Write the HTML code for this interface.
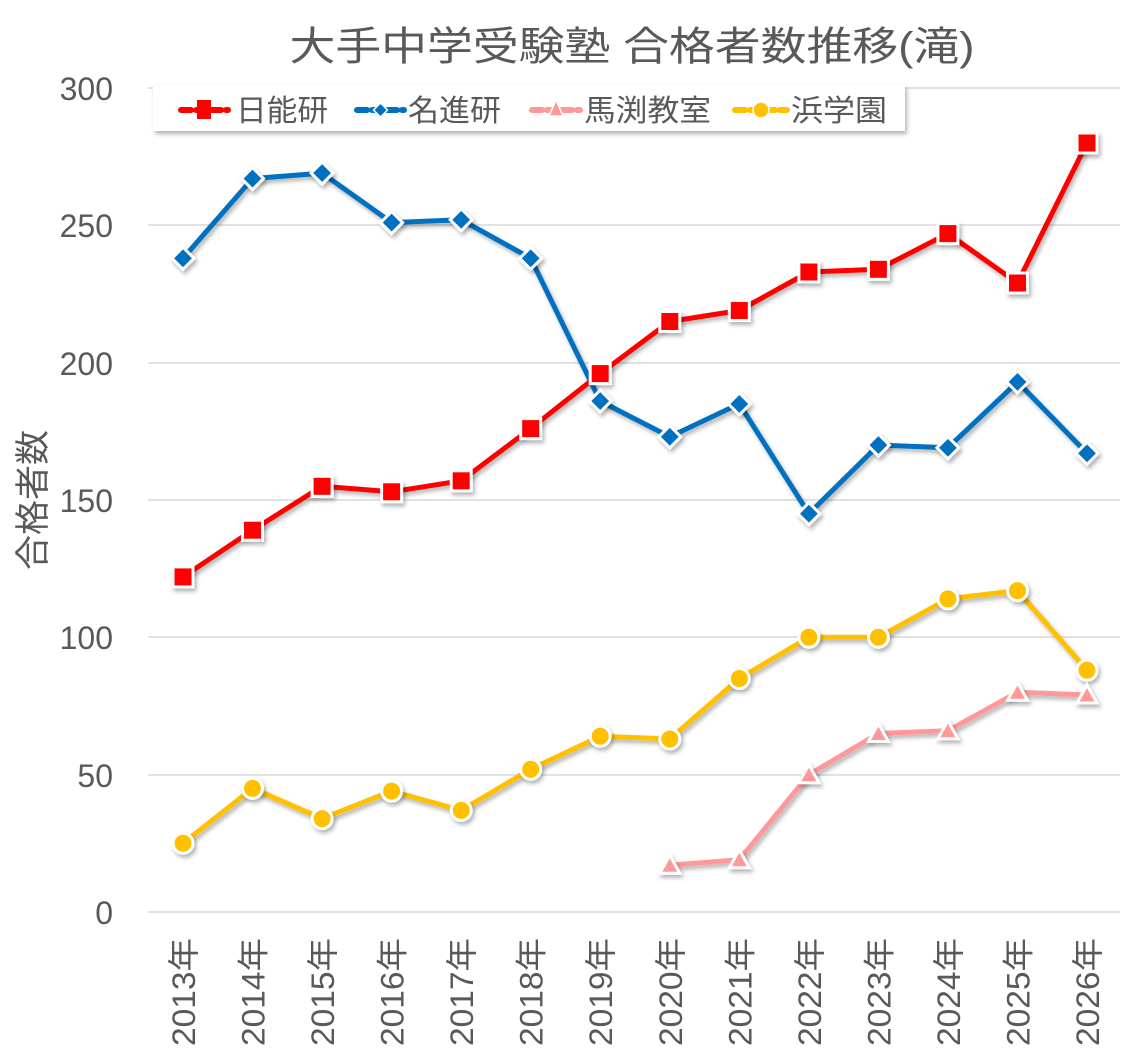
<!DOCTYPE html>
<html><head><meta charset="utf-8"><style>
body{margin:0;background:#fff}
text{font-family:"Liberation Sans","Noto Sans CJK JP",sans-serif;fill:#595959}
.cj{font-family:"Noto Sans CJK JP",sans-serif}
</style></head><body>
<svg width="1146" height="1057" xmlns="http://www.w3.org/2000/svg">
<defs>
<filter id="sh" x="-10%" y="-10%" width="120%" height="130%"><feDropShadow dx="2" dy="3" stdDeviation="2" flood-color="#000" flood-opacity="0.3"/></filter>
</defs>
<text x="632" y="60" font-size="40" text-anchor="middle" textLength="685" lengthAdjust="spacingAndGlyphs">大手中学受験塾 合格者数推移(滝)</text>
<g stroke="#d9d9d9" stroke-width="1.5">
<line x1="148" x2="1120" y1="88" y2="88"/><line x1="148" x2="1120" y1="225" y2="225"/><line x1="148" x2="1120" y1="363" y2="363"/><line x1="148" x2="1120" y1="500" y2="500"/><line x1="148" x2="1120" y1="637" y2="637"/><line x1="148" x2="1120" y1="775" y2="775"/><line x1="148" x2="1120" y1="912" y2="912"/>
</g>
<g font-size="32" text-anchor="end">
<text x="113" y="100">300</text><text x="113" y="237">250</text><text x="113" y="375">200</text><text x="113" y="512">150</text><text x="113" y="649">100</text><text x="113" y="787">50</text><text x="113" y="924">0</text>
</g>
<text transform="translate(45,500) rotate(-90)" font-size="35" text-anchor="middle">合格者数</text>
<g font-size="32" text-anchor="end">
<text transform="translate(195,938) rotate(-90)" textLength="108" lengthAdjust="spacingAndGlyphs">2013年</text>
<text transform="translate(264.5,938) rotate(-90)" textLength="108" lengthAdjust="spacingAndGlyphs">2014年</text>
<text transform="translate(334.1,938) rotate(-90)" textLength="108" lengthAdjust="spacingAndGlyphs">2015年</text>
<text transform="translate(403.6,938) rotate(-90)" textLength="108" lengthAdjust="spacingAndGlyphs">2016年</text>
<text transform="translate(473.2,938) rotate(-90)" textLength="108" lengthAdjust="spacingAndGlyphs">2017年</text>
<text transform="translate(542.7,938) rotate(-90)" textLength="108" lengthAdjust="spacingAndGlyphs">2018年</text>
<text transform="translate(612.2,938) rotate(-90)" textLength="108" lengthAdjust="spacingAndGlyphs">2019年</text>
<text transform="translate(681.8,938) rotate(-90)" textLength="108" lengthAdjust="spacingAndGlyphs">2020年</text>
<text transform="translate(751.3,938) rotate(-90)" textLength="108" lengthAdjust="spacingAndGlyphs">2021年</text>
<text transform="translate(820.9,938) rotate(-90)" textLength="108" lengthAdjust="spacingAndGlyphs">2022年</text>
<text transform="translate(890.4,938) rotate(-90)" textLength="108" lengthAdjust="spacingAndGlyphs">2023年</text>
<text transform="translate(959.9,938) rotate(-90)" textLength="108" lengthAdjust="spacingAndGlyphs">2024年</text>
<text transform="translate(1029.5,938) rotate(-90)" textLength="108" lengthAdjust="spacingAndGlyphs">2025年</text>
<text transform="translate(1099,938) rotate(-90)" textLength="108" lengthAdjust="spacingAndGlyphs">2026年</text>
</g>
<g fill="none" stroke-width="5" stroke-linejoin="round" filter="url(#sh)">
<polyline stroke="#ffc000" points="183,843.3 252.5,788.4 322.1,818.6 391.6,791.1 461.2,810.4 530.7,769.2 600.2,736.2 669.8,739 739.3,678.5 808.9,637.3 878.4,637.3 947.9,598.9 1017.5,590.6 1087,670.3"/>
<polyline stroke="#ff9999" points="669.8,865.3 739.3,859.8 808.9,774.7 878.4,733.5 947.9,730.7 1017.5,692.3 1087,695"/>
<polyline stroke="#0070c0" points="183,258.3 252.5,178.6 322.1,173.1 391.6,222.6 461.2,219.8 530.7,258.3 600.2,401.1 669.8,436.8 739.3,403.9 808.9,513.7 878.4,445.1 947.9,447.8 1017.5,381.9 1087,453.3"/>
<polyline stroke="#ff0000" points="183,576.9 252.5,530.2 322.1,486.3 391.6,491.8 461.2,480.8 530.7,428.6 600.2,373.6 669.8,321.5 739.3,310.5 808.9,272 878.4,269.3 947.9,233.6 1017.5,283 1087,143"/>
</g>
<g filter="url(#sh)">
<g fill="#ffc000" stroke="#fff" stroke-width="3">
<circle cx="183" cy="843.3" r="10"/><circle cx="252.5" cy="788.4" r="10"/><circle cx="322.1" cy="818.6" r="10"/><circle cx="391.6" cy="791.1" r="10"/><circle cx="461.2" cy="810.4" r="10"/><circle cx="530.7" cy="769.2" r="10"/><circle cx="600.2" cy="736.2" r="10"/><circle cx="669.8" cy="739" r="10"/><circle cx="739.3" cy="678.5" r="10"/><circle cx="808.9" cy="637.3" r="10"/><circle cx="878.4" cy="637.3" r="10"/><circle cx="947.9" cy="598.9" r="10"/><circle cx="1017.5" cy="590.6" r="10"/><circle cx="1087" cy="670.3" r="10"/>
</g>
<g fill="#ff9999" stroke="#fff" stroke-width="3">
<path d="M669.8,855.3l10,18h-20z"/><path d="M739.3,849.8l10,18h-20z"/><path d="M808.9,764.7l10,18h-20z"/><path d="M878.4,723.5l10,18h-20z"/><path d="M947.9,720.7l10,18h-20z"/><path d="M1017.5,682.3l10,18h-20z"/><path d="M1087,685l10,18h-20z"/>
</g>
<g fill="#0070c0" stroke="#fff" stroke-width="3">
<path d="M183,247.3l11,11l-11,11l-11,-11z"/><path d="M252.5,167.6l11,11l-11,11l-11,-11z"/><path d="M322.1,162.1l11,11l-11,11l-11,-11z"/><path d="M391.6,211.6l11,11l-11,11l-11,-11z"/><path d="M461.2,208.8l11,11l-11,11l-11,-11z"/><path d="M530.7,247.3l11,11l-11,11l-11,-11z"/><path d="M600.2,390.1l11,11l-11,11l-11,-11z"/><path d="M669.8,425.8l11,11l-11,11l-11,-11z"/><path d="M739.3,392.9l11,11l-11,11l-11,-11z"/><path d="M808.9,502.7l11,11l-11,11l-11,-11z"/><path d="M878.4,434.1l11,11l-11,11l-11,-11z"/><path d="M947.9,436.8l11,11l-11,11l-11,-11z"/><path d="M1017.5,370.9l11,11l-11,11l-11,-11z"/><path d="M1087,442.3l11,11l-11,11l-11,-11z"/>
</g>
<g fill="#ff0000" stroke="#fff" stroke-width="3">
<rect x="173" y="566.9" width="20" height="20"/><rect x="242.5" y="520.2" width="20" height="20"/><rect x="312.1" y="476.3" width="20" height="20"/><rect x="381.6" y="481.8" width="20" height="20"/><rect x="451.2" y="470.8" width="20" height="20"/><rect x="520.7" y="418.6" width="20" height="20"/><rect x="590.2" y="363.6" width="20" height="20"/><rect x="659.8" y="311.5" width="20" height="20"/><rect x="729.3" y="300.5" width="20" height="20"/><rect x="798.9" y="262" width="20" height="20"/><rect x="868.4" y="259.3" width="20" height="20"/><rect x="937.9" y="223.6" width="20" height="20"/><rect x="1007.5" y="273" width="20" height="20"/><rect x="1077" y="133" width="20" height="20"/>
</g>
</g>
<rect x="153" y="85" width="752" height="46" fill="#fff" filter="url(#sh)"/>
<g font-size="30">
<line x1="181" x2="228" y1="110" y2="110" stroke="#ff0000" stroke-width="6" stroke-dasharray="10,5" stroke-linecap="round"/>
<rect x="197" y="100" width="14" height="19" fill="#ff0000"/>
<text x="236" y="121" textLength="92" lengthAdjust="spacingAndGlyphs">日能研</text>
<line x1="357" x2="404" y1="110" y2="110" stroke="#0070c0" stroke-width="6" stroke-dasharray="10,5" stroke-linecap="round"/>
<path d="M380.5,103l7,7l-7,7l-7,-7z" fill="#0070c0" stroke="#fff" stroke-width="1.5"/>
<text x="408" y="121" textLength="93" lengthAdjust="spacingAndGlyphs">名進研</text>
<line x1="532" x2="580" y1="110" y2="110" stroke="#ff9999" stroke-width="6" stroke-dasharray="10,5" stroke-linecap="round"/>
<path d="M556,100l7,16h-14z" fill="#ff9999" stroke="#fff" stroke-width="1.5"/>
<text x="584" y="121" textLength="127" lengthAdjust="spacingAndGlyphs">馬渕教室</text>
<line x1="735" x2="787" y1="110" y2="110" stroke="#ffc000" stroke-width="6" stroke-dasharray="10,5" stroke-linecap="round"/>
<circle cx="761" cy="110" r="8" fill="#ffc000" stroke="#fff" stroke-width="1.5"/>
<text x="791" y="121" textLength="96" lengthAdjust="spacingAndGlyphs">浜学園</text>
</g>
</svg>
</body></html>
